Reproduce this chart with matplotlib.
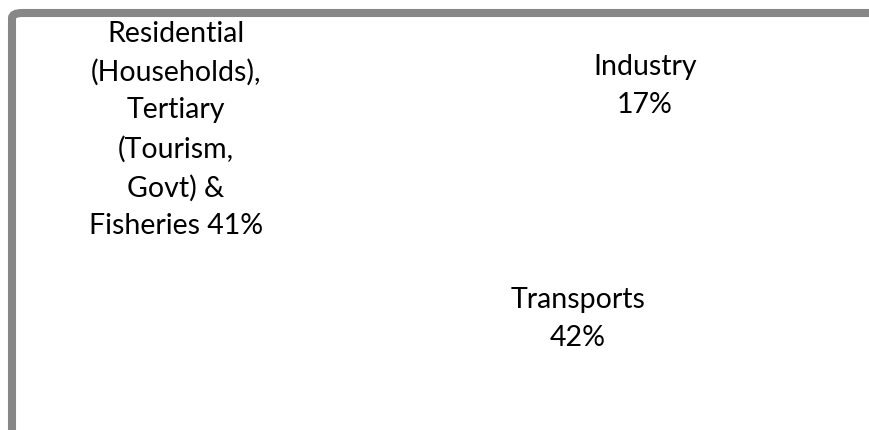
import matplotlib
matplotlib.use("Agg")
import matplotlib.pyplot as plt
from matplotlib.patches import FancyBboxPatch

categories = ["Industry", "Transports", "Residential (Households),\nTertiary (Tourism,\nGovt) &\nFisheries"]
values = [17, 42, 41]
label_texts = ["Industry\n17%", "Transports\n42%",
               "Residential\n(Households),\nTertiary\n(Tourism,\nGovt) &\nFisheries 41%"]

plt.rcParams['font.family'] = ['Lato', 'DejaVu Sans']

W, H = 870, 431
fig = plt.figure(figsize=(W/100, H/100), dpi=100)
fig.patch.set_facecolor('white')

ax = fig.add_axes([0.25, 0.05, 0.5, 0.85])
ax.pie(values, startangle=90, counterclock=False,
       colors=['white']*3, wedgeprops=dict(edgecolor='white', linewidth=1))
ax.set_aspect('equal')
ax.axis('off')

# label positions (figure pixels, center of text block)
pos = [(645, 86), (578, 319), (176, 130)]
for (x, y), t in zip(pos, label_texts):
    fig.text(x/W, 1 - y/H, t, ha='center', va='center', fontsize=20.5,
             linespacing=1.56, color='black')

# chart frame (extends beyond image on right/bottom)
frame = FancyBboxPatch((12/W, -0.2), 1.2, 1 - 14/H + 0.2,
                       boxstyle="round,pad=0,rounding_size=0.012",
                       transform=fig.transFigure, facecolor='none',
                       edgecolor='#878787', linewidth=5.8, clip_on=False)
fig.patches.append(frame)

fig.savefig("out.png", dpi=100, facecolor='white')
